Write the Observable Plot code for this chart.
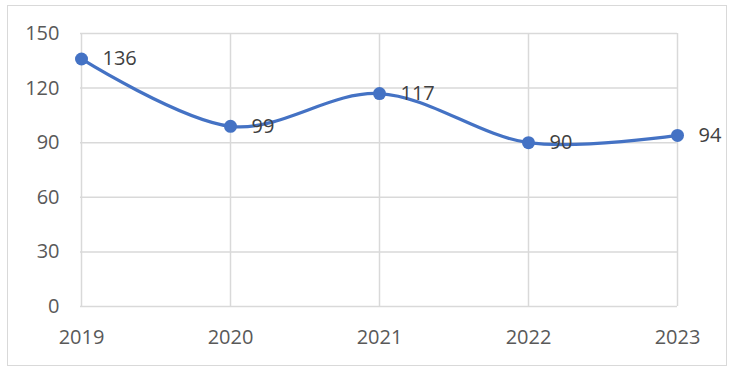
<!DOCTYPE html>
<html>
<head>
<meta charset="utf-8">
<script src="https://cdn.jsdelivr.net/npm/d3@7"></script>
<script src="https://cdn.jsdelivr.net/npm/@observablehq/plot@0.6"></script>
<style>
  html, body { margin: 0; padding: 0; background: #fff; }
  #wrap { position: relative; width: 735px; height: 371px; }
  #border { position: absolute; left: 7px; top: 5px; width: 718px; height: 359px; border: 1.5px solid #d9d9d9; pointer-events: none; }
</style>
</head>
<body>
<div id="wrap"><div id="border"></div></div>
<script>
const years = ["2019", "2020", "2021", "2022", "2023"];
const values = [136, 99, 117, 90, 94];
const yTicks = [0, 30, 60, 90, 120, 150];

const data = years.map((year, i) => ({year, value: values[i]}));

const chart = Plot.plot({
  width: 735,
  height: 371,
  marginLeft: 80,
  marginRight: 58,
  marginTop: 33,
  marginBottom: 65,
  style: {fontFamily: "'Open Sans', sans-serif", fontSize: "20px", color: "#595959", background: "transparent"},
  x: {type: "point", domain: years, padding: 0},
  y: {domain: [0, 150]},
  marks: [
    Plot.ruleY(yTicks, {stroke: "#d9d9d9", strokeWidth: 1.5, strokeOpacity: 1}),
    Plot.ruleX(years, {stroke: "#d9d9d9", strokeWidth: 1.5, strokeOpacity: 1}),
    Plot.axisY(yTicks, {tickSize: 0, tickPadding: 21, label: null, fill: "#595959"}),
    Plot.axisX(years, {tickSize: 0, tickPadding: 23, label: null, fill: "#595959"}),
    Plot.line(data, {x: "year", y: "value", stroke: "#4472C4", strokeWidth: 3.25, curve: "cardinal", tension: 0}),
    Plot.dot(data, {x: "year", y: "value", r: 6.5, fill: "#4472C4", stroke: "none"}),
    Plot.text(data, {x: "year", y: "value", text: d => String(d.value), dx: 21, textAnchor: "start", fill: "#404040"})
  ]
});
chart.style.position = "absolute";
chart.style.left = "0";
chart.style.top = "0";
document.getElementById("wrap").appendChild(chart);
</script>
</body>
</html>
